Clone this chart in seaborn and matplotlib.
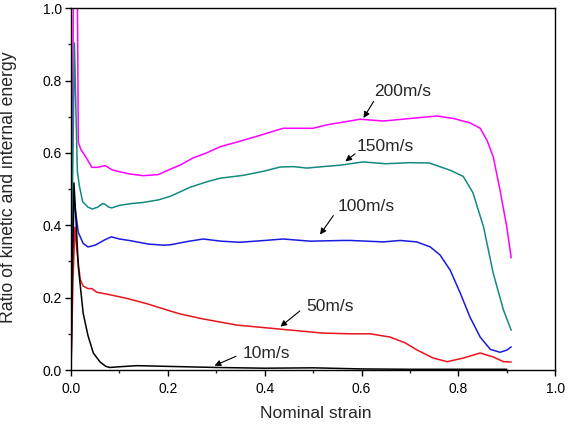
import matplotlib
matplotlib.use("Agg")
import matplotlib.pyplot as plt
from matplotlib.ticker import MultipleLocator
import seaborn as sns
import pandas as pd

# ---- data ----
x200 = [0, 0.002, 0.005, 0.010, 0.013, 0.015, 0.020, 0.030, 0.043, 0.055, 0.070, 0.085, 0.100, 0.120,
        0.149, 0.180, 0.205, 0.225, 0.252, 0.280, 0.308, 0.343, 0.384, 0.438, 0.470, 0.500, 0.530,
        0.562, 0.597, 0.645, 0.700, 0.756, 0.790, 0.824, 0.845, 0.859, 0.872, 0.886, 0.900, 0.909]
y200 = [0, 0.55, 1.05, 1.05, 1.05, 0.63, 0.61, 0.59, 0.56, 0.56, 0.565, 0.553, 0.548, 0.542,
        0.537, 0.540, 0.555, 0.566, 0.586, 0.600, 0.617, 0.630, 0.646, 0.668, 0.668, 0.668, 0.678,
        0.685, 0.693, 0.688, 0.695, 0.702, 0.695, 0.683, 0.668, 0.635, 0.589, 0.497, 0.395, 0.310]

x150 = [0, 0.003, 0.007, 0.010, 0.013, 0.017, 0.024, 0.035, 0.044, 0.055, 0.065, 0.070, 0.078,
        0.084, 0.100, 0.125, 0.149, 0.180, 0.205, 0.246, 0.280, 0.308, 0.356, 0.400, 0.432, 0.460,
        0.487, 0.520, 0.556, 0.603, 0.650, 0.700, 0.740, 0.783, 0.810, 0.830, 0.852, 0.872, 0.893, 0.909]
y150 = [0, 0.50, 0.904, 0.72, 0.55, 0.51, 0.465, 0.450, 0.445, 0.450, 0.460, 0.458, 0.450,
        0.448, 0.455, 0.460, 0.463, 0.470, 0.480, 0.505, 0.520, 0.530, 0.538, 0.550, 0.561, 0.562,
        0.558, 0.562, 0.566, 0.575, 0.570, 0.573, 0.572, 0.552, 0.535, 0.490, 0.395, 0.267, 0.166, 0.110]

x100 = [0, 0.003, 0.006, 0.010, 0.015, 0.025, 0.035, 0.050, 0.070, 0.083, 0.100, 0.120, 0.160,
        0.190, 0.205, 0.240, 0.273, 0.310, 0.349, 0.400, 0.438, 0.494, 0.562, 0.577, 0.645, 0.680,
        0.714, 0.742, 0.762, 0.783, 0.804, 0.824, 0.845, 0.866, 0.886, 0.900, 0.909]
y100 = [0, 0.30, 0.47, 0.43, 0.38, 0.350, 0.340, 0.345, 0.360, 0.368, 0.362, 0.358, 0.348,
        0.345, 0.346, 0.355, 0.362, 0.356, 0.353, 0.358, 0.362, 0.356, 0.358, 0.358, 0.354, 0.358,
        0.354, 0.340, 0.318, 0.276, 0.212, 0.146, 0.091, 0.057, 0.049, 0.055, 0.064]

x50 = [0, 0.004, 0.008, 0.012, 0.019, 0.025, 0.035, 0.043, 0.053, 0.080, 0.115, 0.157, 0.205,
       0.225, 0.273, 0.343, 0.432, 0.520, 0.577, 0.618, 0.659, 0.690, 0.715, 0.748, 0.777, 0.810,
       0.845, 0.872, 0.893, 0.909]
y50 = [0, 0.25, 0.395, 0.33, 0.25, 0.232, 0.225, 0.225, 0.215, 0.208, 0.198, 0.183, 0.163,
       0.155, 0.141, 0.124, 0.113, 0.102, 0.100, 0.100, 0.091, 0.075, 0.055, 0.033, 0.023, 0.033,
       0.047, 0.036, 0.023, 0.022]

x10 = [0, 0.003, 0.006, 0.010, 0.015, 0.025, 0.035, 0.046, 0.060, 0.072, 0.080, 0.100, 0.136,
       0.200, 0.300, 0.400, 0.500, 0.600, 0.700, 0.800, 0.900]
y10 = [0, 0.30, 0.517, 0.42, 0.285, 0.157, 0.095, 0.047, 0.022, 0.010, 0.007, 0.009, 0.012,
       0.010, 0.007, 0.005, 0.006, 0.003, 0.002, 0.002, 0.002]

series = ["200m/s", "150m/s", "100m/s", "50m/s", "10m/s"]
colors = ["#ff00ff", "#138a80", "#1a1ae0", "#e8141c", "#000000"]

labels = ["200m/s", "150m/s", "100m/s", "50m/s", "10m/s"]
label_xy = [(0.684, 0.770), (0.649, 0.619), (0.609, 0.451), (0.535, 0.175), (0.404, 0.046)]
arrow_tip = [(0.601, 0.690), (0.562, 0.572), (0.511, 0.368), (0.428, 0.115), (0.291, 0.009)]
arrow_tail = [(0.628, 0.749), (0.591, 0.602), (0.545, 0.433), (0.477, 0.168), (0.346, 0.041)]

xt = [0.0, 0.2, 0.4, 0.6, 0.8, 1.0]
yt = [0.0, 0.2, 0.4, 0.6, 0.8, 1.0]

# ---- build long table ----
frames = []
for name, xs, ys in zip(series, [x200, x150, x100, x50, x10], [y200, y150, y100, y50, y10]):
    frames.append(pd.DataFrame({"strain": xs, "ratio": ys, "speed": name}))
df = pd.concat(frames, ignore_index=True)

sns.set_style("ticks")
plt.rcParams["font.family"] = ["Liberation Sans", "DejaVu Sans"]

fig = plt.figure(figsize=(5.73, 4.28), dpi=100)
ax = fig.add_axes([0.124, 0.1355, 0.845, 0.8455])

sns.lineplot(data=df, x="strain", y="ratio", hue="speed", palette=dict(zip(series, colors)),
             sort=False, estimator=None, linewidth=1.1, legend=False, ax=ax)

ax.set_xlim(0, 1.0)
ax.set_ylim(0, 1.0)
ax.set_xticks(xt)
ax.set_yticks(yt)
ax.set_xticklabels([f"{v:.1f}" for v in xt])
ax.set_yticklabels([f"{v:.1f}" for v in yt])
ax.xaxis.set_minor_locator(MultipleLocator(0.1))
ax.yaxis.set_minor_locator(MultipleLocator(0.1))
ax.tick_params(which="major", direction="out", length=4.5, width=1, labelsize=10, colors="black")
ax.tick_params(axis="x", which="major", pad=4)
ax.tick_params(axis="y", which="major", pad=2)
ax.tick_params(which="minor", direction="out", length=2.5, width=1)
for s in ax.spines.values():
    s.set_visible(True)
    s.set_linewidth(1.0)
    s.set_color("black")

ax.set_xlabel("Nominal strain", fontsize=12.5)
ax.set_ylabel("Ratio of kinetic and internal energy", fontsize=12.7)
ax.xaxis.set_label_coords(0.505, -0.119)
ax.yaxis.set_label_coords(-0.130, 0.506)
ax.xaxis.label.set_va("center")
ax.yaxis.label.set_va("center")

for lab, pos, tip, tail in zip(labels, label_xy, arrow_tip, arrow_tail):
    ax.annotate("", xy=tip, xytext=tail,
                arrowprops=dict(arrowstyle="-|>", color="black", lw=0.8, mutation_scale=9))
    ax.text(pos[0], pos[1], lab, fontsize=12.5, ha="center", va="center")

fig.savefig("out.png", dpi=100)
